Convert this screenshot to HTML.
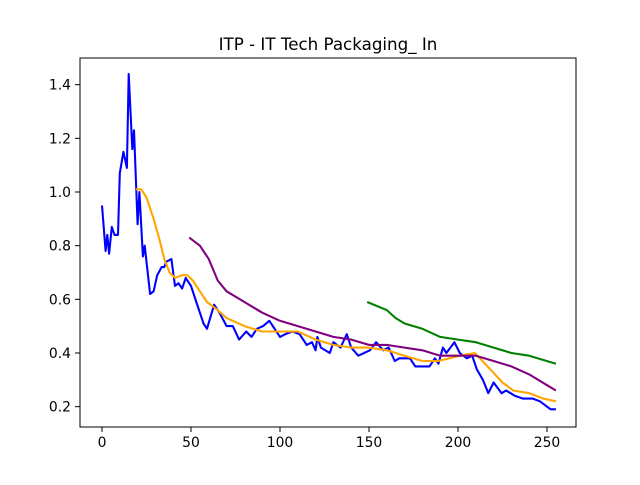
<!DOCTYPE html>
<html><head><meta charset="utf-8"><style>
body{margin:0;background:#fff}
svg text{font-family:"DejaVu Sans","Liberation Sans",sans-serif;fill:#000}
</style></head><body>
<svg id="chart" width="640" height="480" xmlns="http://www.w3.org/2000/svg">
<rect width="640" height="480" fill="#fff"/>
<text x="328" y="50" font-size="16.7" text-anchor="middle">ITP - IT Tech Packaging_ In</text>
<g id="plot"></g>
<rect x="80" y="58" width="496" height="369" fill="none" stroke="#000" stroke-width="1"/>
<g id="axes"></g>
</svg>
<script>
const xTicks=[0,50,100,150,200,250];
const yTicks=[0.2,0.4,0.6,0.8,1.0,1.2,1.4];
const yTickLabels=["0.2","0.4","0.6","0.8","1.0","1.2","1.4"];
const priceX=[0,2,3,4,5.5,7,9,10,12,14,15,17,18,20,21,23,24,27,29,31,33.5,35,36,39,41,43,45,47,50,53,55,57,59,63,66,70,73.5,77,81,84,87,90.5,94,100,103,107,111,115,118,120,121,123,128,130,134,137.5,140,144,150.5,154,158,161,164.5,167,173,176,184,187,189,191.5,193.5,198,201,205,208,210.5,214,217,220,224.5,227,232,236.5,242,246,252,255];
const priceY=[0.95,0.78,0.84,0.77,0.87,0.84,0.84,1.07,1.15,1.09,1.44,1.16,1.23,0.88,1.0,0.76,0.80,0.62,0.63,0.69,0.72,0.72,0.74,0.75,0.65,0.66,0.64,0.68,0.65,0.59,0.55,0.51,0.49,0.58,0.55,0.50,0.50,0.45,0.48,0.46,0.49,0.50,0.52,0.46,0.47,0.48,0.47,0.43,0.44,0.41,0.46,0.42,0.40,0.44,0.42,0.47,0.42,0.39,0.41,0.44,0.41,0.42,0.37,0.38,0.38,0.35,0.35,0.38,0.36,0.42,0.40,0.44,0.40,0.38,0.39,0.34,0.30,0.25,0.29,0.25,0.26,0.24,0.23,0.23,0.22,0.19,0.19];
const ma20X=[19,22,25,29,32,35,38,41,45,48,51,55,59,65,70,80,90,100,110,120,130,140,150,160,170,180,189,201,209.5,218,225,231,240,248,255];
const ma20Y=[1.01,1.01,0.98,0.90,0.83,0.75,0.70,0.68,0.69,0.69,0.67,0.63,0.59,0.56,0.53,0.50,0.48,0.48,0.48,0.45,0.43,0.42,0.42,0.41,0.39,0.37,0.37,0.39,0.40,0.34,0.29,0.26,0.25,0.23,0.22];
const ma50X=[49,55,60,65,70,80,90,100,110,120,130,140,150,160,170,180,190,200,210,220,230,240,250,255];
const ma50Y=[0.83,0.80,0.75,0.67,0.63,0.59,0.55,0.52,0.50,0.48,0.46,0.45,0.43,0.43,0.42,0.41,0.39,0.39,0.39,0.37,0.35,0.32,0.28,0.26];
const ma150X=[149,160,165,170,180,190,200,210,220,230,240,255];
const ma150Y=[0.59,0.56,0.53,0.51,0.49,0.46,0.45,0.44,0.42,0.40,0.39,0.36];
const NS="http://www.w3.org/2000/svg";
function sx(v){return 102+v*1.78;}
function sy(v){return 192-(v-1.0)*268.3;}
const plot=document.getElementById('plot');
function line(xs,ys,color,name){
  const p=document.createElementNS(NS,'polyline');
  p.setAttribute('points',xs.map((x,i)=>sx(x).toFixed(1)+','+sy(ys[i]).toFixed(1)).join(' '));
  p.setAttribute('fill','none');p.setAttribute('stroke',color);p.setAttribute('stroke-width','2.08');
  p.setAttribute('stroke-linejoin','round');
  
  
  plot.appendChild(p);
}
line(priceX,priceY,'blue','price-line');
line(ma20X,ma20Y,'orange','ma20-line');
line(ma50X,ma50Y,'purple','ma50-line');
line(ma150X,ma150Y,'green','ma150-line');
const axes=document.getElementById('axes');
xTicks.forEach(t=>{
  const l=document.createElementNS(NS,'line');
  l.setAttribute('x1',sx(t));l.setAttribute('x2',sx(t));l.setAttribute('y1',427);l.setAttribute('y2',432);l.setAttribute('stroke','#000');
  
  
  axes.appendChild(l);
  const tx=document.createElementNS(NS,'text');
  tx.setAttribute('x',sx(t));tx.setAttribute('y',447);tx.setAttribute('font-size','13.9');tx.setAttribute('text-anchor','middle');
  tx.textContent=String(t);
  
  
  axes.appendChild(tx);
});
yTicks.forEach((t,i)=>{
  const l=document.createElementNS(NS,'line');
  l.setAttribute('x1',75);l.setAttribute('x2',80);l.setAttribute('y1',sy(t));l.setAttribute('y2',sy(t));l.setAttribute('stroke','#000');
  
  
  axes.appendChild(l);
  const tx=document.createElementNS(NS,'text');
  tx.setAttribute('x',71);tx.setAttribute('y',sy(t)+5);tx.setAttribute('font-size','13.9');tx.setAttribute('text-anchor','end');
  tx.textContent=yTickLabels[i];
  
  
  axes.appendChild(tx);
});
</script>
</body></html>
